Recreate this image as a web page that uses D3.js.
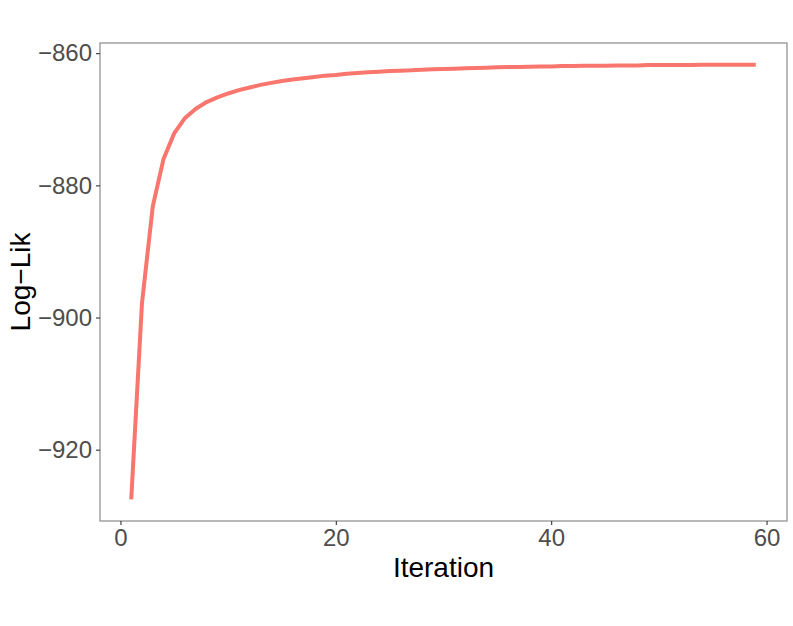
<!DOCTYPE html>
<html><head><meta charset="utf-8">
<script src="https://cdn.jsdelivr.net/npm/d3@7"></script>
<style>body{margin:0;background:#fff}svg{display:block}</style>
</head><body>
<svg id="c" width="793" height="626"></svg>
<script>
const iterations = d3.range(1, 60);
const logLik = [-927.5,-897.8,-883.2,-876.0,-872.1,-869.8,-868.4,-867.4,-866.7,-866.1,
-865.6,-865.2,-864.8,-864.5,-864.2,-864.0,-863.8,-863.6,-863.4,-863.3,
-863.1,-863.0,-862.9,-862.8,-862.7,-862.65,-862.6,-862.5,-862.45,-862.4,
-862.35,-862.3,-862.25,-862.2,-862.15,-862.1,-862.1,-862.05,-862.0,-862.0,
-861.95,-861.95,-861.9,-861.9,-861.9,-861.85,-861.85,-861.85,-861.8,-861.8,
-861.8,-861.8,-861.8,-861.75,-861.75,-861.75,-861.75,-861.75,-861.75];
const xTicks = [0, 20, 40, 60];
const yTicks = [-920, -900, -880, -860];

const svg = d3.select("#c");
const L = 100, R = 787, T = 43, B = 521;
const fmt = v => String(v).replace("-", "\u2212");

const xmin = d3.min(iterations), xmax = d3.max(iterations);
const xe = (xmax - xmin) * 0.05;
const x = d3.scaleLinear().domain([xmin - xe, xmax + xe]).range([L, R]);
const ymin = d3.min(logLik), ymax = d3.max(logLik);
const ye = (ymax - ymin) * 0.05;
const y = d3.scaleLinear().domain([ymin - ye, ymax + ye]).range([B, T]);

const line = d3.line().x((d, i) => x(iterations[i])).y(d => y(d));
svg.append("path").datum(logLik).attr("d", line)
  .attr("fill", "none").attr("stroke", "#F8766D").attr("stroke-width", 4)
  .attr("stroke-linejoin", "round");

svg.append("rect").attr("x", L).attr("y", T).attr("width", R - L).attr("height", B - T)
  .attr("fill", "none").attr("stroke", "#8a8a8a").attr("stroke-width", 1.2);

const xa = svg.append("g").attr("transform", `translate(0,${B})`)
  .call(d3.axisBottom(x).tickValues(xTicks).tickSize(4).tickPadding(4).tickFormat(fmt));
const ya = svg.append("g").attr("transform", `translate(${L},0)`)
  .call(d3.axisLeft(y).tickValues(yTicks).tickSize(4).tickPadding(4).tickFormat(fmt));
[xa, ya].forEach(a => {
  a.select(".domain").remove();
  a.selectAll(".tick line").attr("stroke", "#333").attr("stroke-width", 1.1);
  a.selectAll(".tick text").attr("fill", "#4d4d4d")
    .style("font-family", "'Liberation Sans', Arial, sans-serif").style("font-size", "24px");
});

svg.append("text").attr("x", (L + R) / 2).attr("y", 577).attr("text-anchor", "middle")
  .style("font-family", "'Liberation Sans', Arial, sans-serif").style("font-size", "28px")
  .attr("fill", "#000").text("Iteration");
svg.append("text").attr("transform", `translate(30,${(T + B) / 2}) rotate(-90)`)
  .attr("text-anchor", "middle")
  .style("font-family", "'Liberation Sans', Arial, sans-serif").style("font-size", "28px")
  .attr("fill", "#000").text("Log\u2212Lik");
</script>
</body></html>
